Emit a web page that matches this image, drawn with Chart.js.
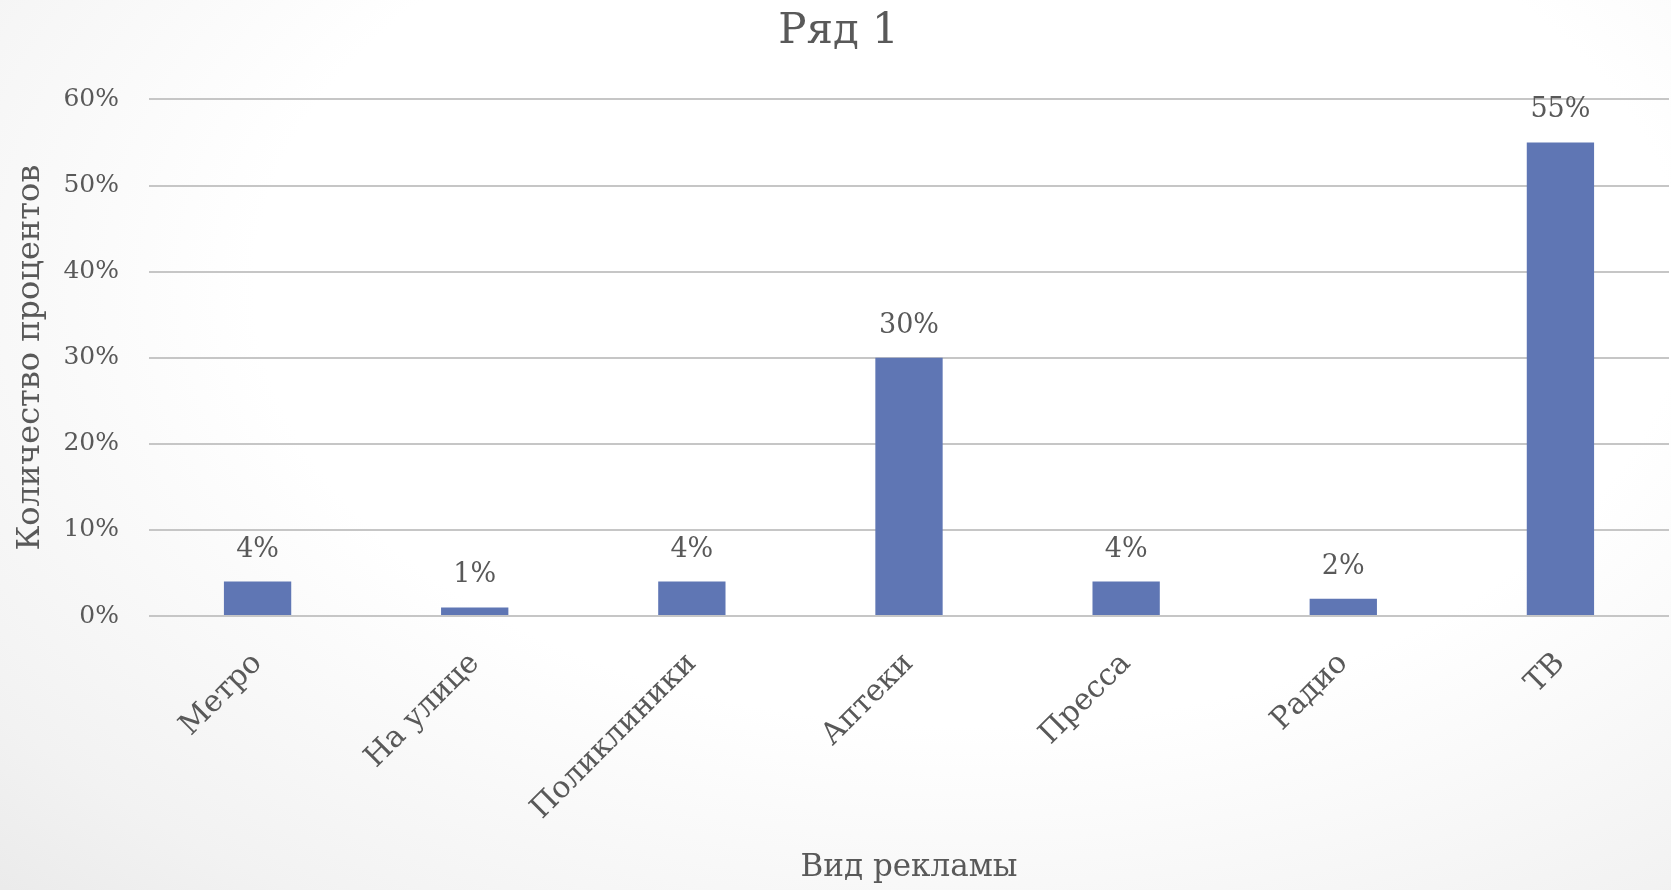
<!DOCTYPE html>
<html>
<head>
<meta charset="utf-8">
<script src="https://cdn.jsdelivr.net/npm/chart.js@4.4.1/dist/chart.umd.min.js"></script>
<style>
  html, body { margin: 0; padding: 0; }
  body {
    width: 1671px; height: 890px; overflow: hidden;
    background: radial-gradient(ellipse 95% 110% at 58% 32%, #ffffff 45%, #f2f2f2 75%, #e3e3e3 100%);
  }
  #wrap { width: 1671px; height: 890px; }
</style>
</head>
<body>
<div id="wrap"><canvas id="myChart"></canvas></div>
<script>
// данные диаграммы
const categories = ['Метро', 'На улице', 'Поликлиники', 'Аптеки', 'Пресса', 'Радио', 'ТВ'];
const values = [4, 1, 4, 30, 4, 2, 55];
const yTicks = [0, 10, 20, 30, 40, 50, 60];

const textColor = '#595959';
const fontName = '"DejaVu Serif", "Liberation Serif", serif';

// подписи над столбцами
const barLabels = {
  id: 'barLabels',
  afterDatasetsDraw(chart){
    const ctx = chart.ctx;
    const meta = chart.getDatasetMeta(0);
    ctx.save();
    ctx.font = '27px ' + fontName;
    ctx.fillStyle = textColor;
    ctx.textAlign = 'center';
    ctx.textBaseline = 'alphabetic';
    meta.data.forEach((bar, i) => {
      ctx.fillText(values[i] + '%', bar.x, bar.y - 25);
    });
    ctx.restore();
  }
};

function chart(){
  const ctx = document.getElementById('myChart').getContext('2d');

  const data = {
    labels: categories,
    datasets: [{
      label: 'Ряд 1',
      data: values,
      backgroundColor: '#5f76b4',
      borderWidth: 0,
      barPercentage: 0.31,
      categoryPercentage: 1
    }]
  };

  const config = {
    type: 'bar',
    data: data,
    plugins: [barLabels],
    options: {
      responsive: true,
      maintainAspectRatio: false,
      animation: false,
      layout: { padding: { left: 8, right: 2, top: 0, bottom: 0 } },
      plugins: {
        legend: { display: false },
        tooltip: { enabled: false },
        title: {
          display: true,
          text: 'Ряд 1',
          color: textColor,
          font: { family: fontName, size: 42, weight: 'normal' },
          padding: { top: 7, bottom: 42 }
        }
      },
      scales: {
        x: {
          grid: { display: false },
          border: { display: false },
          // фиксированная высота оси, повернутые подписи не сдвигают график
          afterFit(scale){
            scale.paddingLeft = 0;
            scale.paddingRight = 0;
            scale.height = 274;
          },
          ticks: {
            color: textColor,
            font: { family: fontName, size: 30 },
            minRotation: 45,
            maxRotation: 45,
            padding: 22
          },
          title: {
            display: true,
            text: 'Вид рекламы',
            color: textColor,
            font: { family: fontName, size: 31 },
            padding: { top: 28, bottom: 3 }
          }
        },
        y: {
          min: yTicks[0],
          max: yTicks[yTicks.length - 1],
          afterBuildTicks(axis){
            axis.ticks = yTicks.map(v => ({ value: v }));
          },
          afterFit(scale){
            scale.width = 141;
          },
          grid: { color: '#c6c6c6', lineWidth: 2, drawTicks: false },
          border: { display: false },
          ticks: {
            color: textColor,
            font: { family: fontName, size: 25 },
            padding: 30,
            callback: v => v + '%'
          },
          title: {
            display: true,
            text: 'Количество процентов',
            color: textColor,
            font: { family: fontName, size: 32 },
            padding: { top: 3, bottom: 10 }
          }
        }
      }
    }
  };

  return new Chart(ctx, config);
}

chart();
</script>
</body>
</html>
